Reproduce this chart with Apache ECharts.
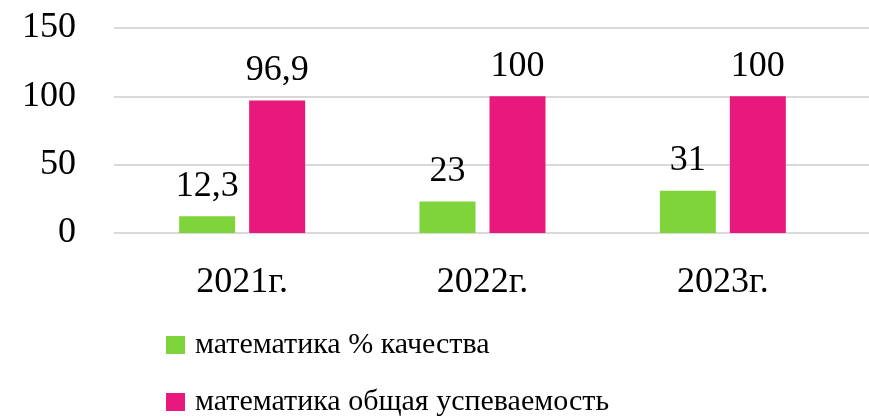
<!DOCTYPE html>
<html>
<head>
<meta charset="utf-8">
<script src="https://cdn.jsdelivr.net/npm/echarts@6/dist/echarts.min.js"></script>
<style>html,body{margin:0;padding:0;background:#fff}#c{width:869px;height:420px}</style>
</head>
<body>
<div id="c"></div>
<script>
var categories = ['2021г.', '2022г.', '2023г.'];
var seriesNames = ['математика % качества', 'математика общая успеваемость'];
var qualityValues = [12.3, 23, 31];
var successValues = [96.9, 100, 100];
var yTicks = [0, 50, 100, 150];

var FONT = '"Liberation Serif", "Times New Roman", serif';
var chart = echarts.init(document.getElementById('c'));
function fmt(p){ return String(p.value).replace('.', ','); }
function legendFor(name, top){
  return {
    orient: 'vertical', left: 166, top: top, padding: 0,
    itemWidth: 19, itemHeight: 18,
    textStyle: { fontFamily: FONT, fontSize: 30, color: '#000', padding: [0,0,0,5] },
    icon: 'rect',
    data: [name]
  };
}
chart.setOption({
  animation: false,
  textStyle: { fontFamily: FONT },
  legend: [ legendFor(seriesNames[0], 330), legendFor(seriesNames[1], 387) ],
  grid: [
    { left: 114, right: 0, top: 28, bottom: 187 },
    { left: 122, width: 721, top: 28, bottom: 187 }
  ],
  xAxis: [
    { gridIndex: 0, type: 'category', data: categories, show: false },
    { gridIndex: 1, type: 'category', data: categories,
      axisLine: { show: false }, axisTick: { show: false },
      axisLabel: { fontFamily: FONT, fontSize: 36, color: '#000', margin: 32 } }
  ],
  yAxis: [
    { gridIndex: 0, type: 'value', min: yTicks[0], max: yTicks[yTicks.length-1], interval: 50,
      axisLine: { show: false }, axisTick: { show: false },
      axisLabel: { fontFamily: FONT, fontSize: 36, color: '#000', margin: 38 },
      splitLine: { lineStyle: { color: '#d9d9d9', width: 2 } } },
    { gridIndex: 1, type: 'value', min: yTicks[0], max: yTicks[yTicks.length-1], interval: 50, show: false }
  ],
  series: [
    { name: seriesNames[0], type: 'bar', xAxisIndex: 1, yAxisIndex: 1, data: qualityValues,
      barWidth: 56, barGap: '25%',
      itemStyle: { color: '#7FD33B' },
      label: { show: true, position: 'top', distance: 12, formatter: fmt,
        fontFamily: FONT, fontSize: 36, color: '#000' } },
    { name: seriesNames[1], type: 'bar', xAxisIndex: 1, yAxisIndex: 1, data: successValues,
      barWidth: 56, barGap: '25%',
      itemStyle: { color: '#E8187C' },
      label: { show: true, position: 'top', distance: 12, formatter: fmt,
        fontFamily: FONT, fontSize: 36, color: '#000' } }
  ]
});
</script>
</body>
</html>
